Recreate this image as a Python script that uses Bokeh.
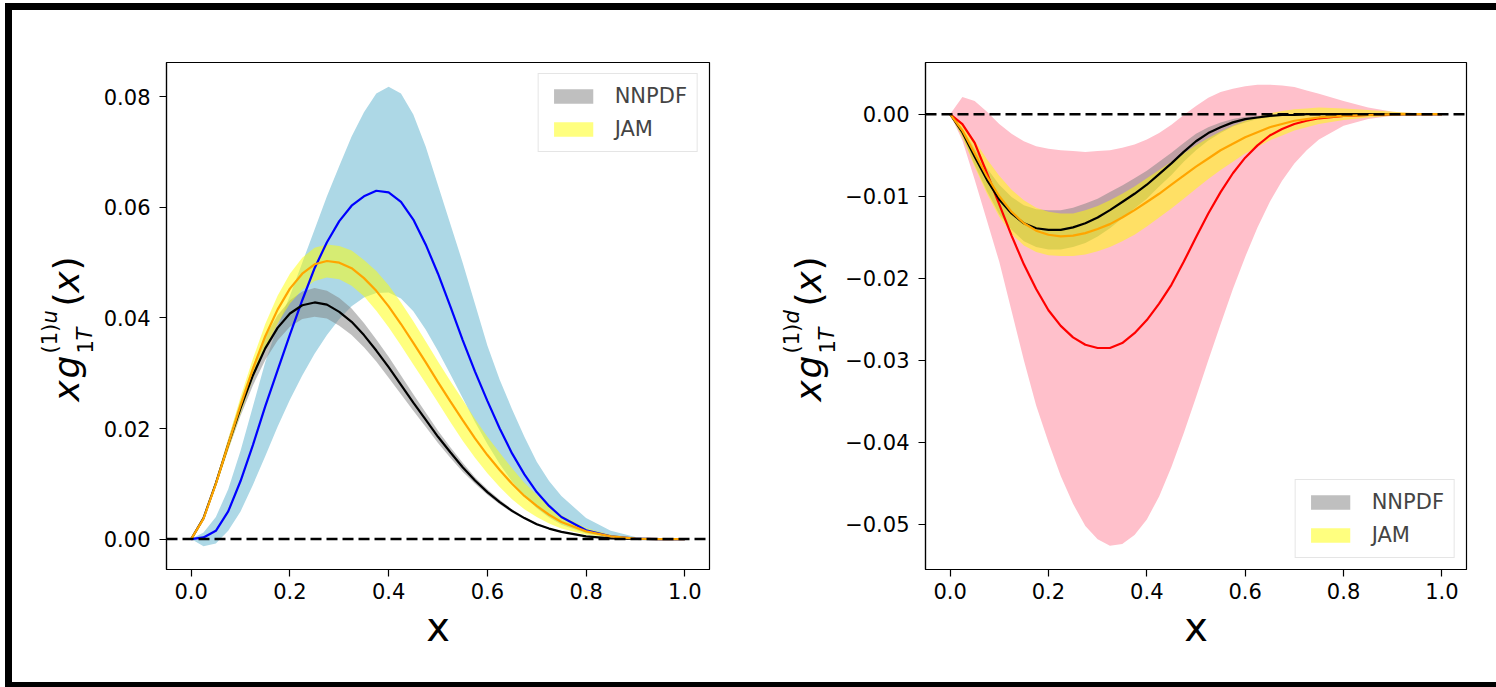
import math
from bokeh.plotting import figure
from bokeh.models import ColumnDataSource, Range1d, FixedTicker, Span, Legend, LegendItem
from bokeh.layouts import row
from bokeh.embed import file_html
from bokeh.resources import INLINE
from bokeh.core.properties import value, field

# ---------------- data ----------------
x_grid = [0.0, 0.025, 0.05, 0.075, 0.1, 0.125, 0.15, 0.175, 0.2, 0.225, 0.25, 0.275, 0.3, 0.325,
          0.35, 0.375, 0.4, 0.425, 0.45, 0.475, 0.5, 0.525, 0.55, 0.575, 0.6, 0.625, 0.65, 0.675,
          0.7, 0.725, 0.75, 0.8, 0.85, 0.9, 0.95, 1.0]

# u quark panel
u_model = [0, 0.0003, 0.0015, 0.005, 0.0105, 0.017, 0.024, 0.0305, 0.037, 0.0432, 0.049, 0.0537,
           0.0575, 0.0603, 0.062, 0.063, 0.0627, 0.061, 0.0578, 0.0533, 0.048, 0.0421, 0.036, 0.0303,
           0.025, 0.02, 0.0155, 0.0117, 0.0085, 0.006, 0.004, 0.0016, 0.0005, 0.0001, 0, 0]
u_model_lo = [0, -0.0013, -0.0008, 0.0015, 0.005, 0.0098, 0.015, 0.0203, 0.0252, 0.0296, 0.0335,
              0.0369, 0.0398, 0.0421, 0.0437, 0.0445, 0.0446, 0.0435, 0.0412, 0.0379, 0.034, 0.0298,
              0.0255, 0.0212, 0.0172, 0.0136, 0.0104, 0.0078, 0.0056, 0.0039, 0.0026, 0.001, 0.0003,
              0.0001, 0, 0]
u_model_hi = [0, 0.0012, 0.004, 0.009, 0.016, 0.024, 0.032, 0.0385, 0.044, 0.05, 0.056, 0.062, 0.0675,
              0.0728, 0.0772, 0.0806, 0.0818, 0.0806, 0.0768, 0.071, 0.064, 0.057, 0.05, 0.0425, 0.035,
              0.0288, 0.0235, 0.0185, 0.014, 0.0105, 0.0078, 0.0038, 0.0015, 0.0004, 0.0001, 0]
u_nnpdf = [0, 0.0038, 0.0101, 0.0171, 0.0237, 0.0296, 0.0345, 0.0382, 0.0408, 0.0423, 0.0428, 0.0424,
           0.0411, 0.0393, 0.0369, 0.0341, 0.0311, 0.0279, 0.0247, 0.0216, 0.0185, 0.0157, 0.013,
           0.0106, 0.0085, 0.0067, 0.0051, 0.0038, 0.0027, 0.0019, 0.0013, 0.0005, 0.00013, 0.00002, 0, 0]
u_nnpdf_lo = [0, 0.0036, 0.0095, 0.0161, 0.0223, 0.0278, 0.0324, 0.0359, 0.0384, 0.0398, 0.0402,
              0.0399, 0.0386, 0.0369, 0.0347, 0.0321, 0.0292, 0.0262, 0.0232, 0.0203, 0.0174, 0.0147,
              0.0122, 0.01, 0.008, 0.0063, 0.0048, 0.0036, 0.0025, 0.0018, 0.0012, 0.0005, 0.0001, 0, 0, 0]
u_nnpdf_hi = [0, 0.004, 0.0107, 0.0181, 0.0251, 0.0314, 0.0366, 0.0405, 0.0432, 0.0448, 0.0454,
              0.0449, 0.0436, 0.0417, 0.0391, 0.0361, 0.033, 0.0296, 0.0262, 0.0229, 0.0196, 0.0166,
              0.0138, 0.0112, 0.009, 0.0071, 0.0054, 0.004, 0.0029, 0.002, 0.0014, 0.0005, 0.00015,
              0.00002, 0, 0]
u_jam = [0, 0.0037, 0.01, 0.0171, 0.0242, 0.0308, 0.0367, 0.0415, 0.0453, 0.048, 0.0497, 0.0503,
         0.05, 0.049, 0.0472, 0.0449, 0.0421, 0.0389, 0.0355, 0.032, 0.0284, 0.0249, 0.0215, 0.0182,
         0.0152, 0.0125, 0.01, 0.0078, 0.006, 0.0044, 0.0031, 0.0014, 0.0005, 0.0001, 0, 0]
u_jam_lo = [0, 0.0035, 0.0094, 0.0161, 0.0227, 0.029, 0.0345, 0.039, 0.0426, 0.0451, 0.0467, 0.0473,
            0.047, 0.0458, 0.0439, 0.0413, 0.0383, 0.035, 0.0316, 0.0282, 0.0247, 0.0212, 0.0178,
            0.0147, 0.0119, 0.0094, 0.0072, 0.0054, 0.004, 0.0028, 0.0019, 0.0008, 0.0003, 0.0001, 0, 0]
u_jam_hi = [0, 0.0039, 0.0106, 0.0181, 0.0257, 0.0326, 0.0389, 0.044, 0.048, 0.0509, 0.0527, 0.0533,
            0.053, 0.0522, 0.0505, 0.0485, 0.0459, 0.0428, 0.0394, 0.0358, 0.0321, 0.0286, 0.0252,
            0.0217, 0.0185, 0.0156, 0.0128, 0.0102, 0.008, 0.006, 0.0043, 0.002, 0.0008, 0.0002,
            0.0001, 0]

# d quark panel
d_model = [0, -0.0012, -0.0035, -0.0072, -0.011, -0.0148, -0.0183, -0.0213, -0.0239, -0.0258,
           -0.0272, -0.0281, -0.0285, -0.0285, -0.0279, -0.0267, -0.0251, -0.0231, -0.0208, -0.018,
           -0.015, -0.0121, -0.0095, -0.0072, -0.0053, -0.0038, -0.0026, -0.0018, -0.0012, -0.0008,
           -0.0005, -0.0002, -0.0001, 0, 0, 0]
d_model_lo = [0, -0.0032, -0.008, -0.013, -0.018, -0.024, -0.03, -0.0355, -0.04, -0.0441, -0.0475,
              -0.0502, -0.0518, -0.0526, -0.0524, -0.0513, -0.0494, -0.0466, -0.043, -0.0389, -0.0345,
              -0.03, -0.0256, -0.0213, -0.0174, -0.0138, -0.0107, -0.0081, -0.006, -0.0044, -0.0031,
              -0.0014, -0.0006, -0.0002, -0.0001, 0]
d_model_hi = [0, 0.0021, 0.0016, 0.0003, -0.0012, -0.0024, -0.0033, -0.0039, -0.0042, -0.0044,
              -0.0045, -0.0046, -0.0045, -0.0044, -0.0041, -0.0037, -0.0031, -0.0023, -0.0013, -0.0001,
              0.001, 0.002, 0.0027, 0.0031, 0.0034, 0.0036, 0.0036, 0.0035, 0.0033, 0.0029, 0.0025,
              0.0016, 0.0008, 0.0003, 0.0001, 0]
d_nnpdf = [0, -0.0022, -0.0052, -0.008, -0.0104, -0.0121, -0.0133, -0.0139, -0.0141, -0.0141, -0.0138,
           -0.0133, -0.0126, -0.0117, -0.0107, -0.0097, -0.0086, -0.0073, -0.006, -0.0046, -0.0033,
           -0.0023, -0.0016, -0.001, -0.0006, -0.0004, -0.0002, -0.0001, -0.0001, 0, 0, 0, 0, 0, 0, 0]
d_nnpdf_lo = [0, -0.0027, -0.0062, -0.0094, -0.0122, -0.0141, -0.0155, -0.0162, -0.0165, -0.0165,
              -0.0162, -0.0157, -0.0149, -0.0139, -0.0127, -0.0115, -0.0103, -0.0088, -0.0074, -0.0058,
              -0.0044, -0.0032, -0.0023, -0.0015, -0.001, -0.0006, -0.0004, -0.0002, -0.0001, 0, 0, 0,
              0, 0, 0, 0]
d_nnpdf_hi = [0, -0.0017, -0.0042, -0.0066, -0.0086, -0.0101, -0.0111, -0.0116, -0.0117, -0.0117,
              -0.0114, -0.0109, -0.0103, -0.0095, -0.0087, -0.0078, -0.0069, -0.0058, -0.0047, -0.0035,
              -0.0024, -0.0016, -0.001, -0.0006, -0.0003, -0.0002, -0.0001, 0, 0, 0, 0, 0, 0, 0, 0, 0]
d_jam = [0, -0.002, -0.0048, -0.0076, -0.01, -0.0119, -0.0133, -0.0142, -0.0147, -0.0149, -0.0148,
         -0.0145, -0.014, -0.0134, -0.0126, -0.0117, -0.0107, -0.0097, -0.0086, -0.0075, -0.0064,
         -0.0054, -0.0044, -0.0036, -0.0028, -0.0022, -0.0016, -0.0012, -0.0008, -0.0006, -0.0004,
         -0.0002, -0.0001, 0, 0, 0]
d_jam_lo = [0, -0.0028, -0.0064, -0.0097, -0.0125, -0.0146, -0.016, -0.0168, -0.0172, -0.0173,
            -0.0173, -0.0171, -0.0167, -0.0162, -0.0155, -0.0147, -0.0137, -0.0126, -0.0115, -0.0103,
            -0.0091, -0.0079, -0.0068, -0.0058, -0.0048, -0.004, -0.0032, -0.0026, -0.002, -0.0016,
            -0.0012, -0.0007, -0.0004, -0.0002, -0.0001, 0]
d_jam_hi = [0, -0.0012, -0.0032, -0.0055, -0.0075, -0.0092, -0.0105, -0.0114, -0.0119, -0.0121,
            -0.0121, -0.0117, -0.0112, -0.0105, -0.0097, -0.0088, -0.0078, -0.0068, -0.0058, -0.0048,
            -0.0038, -0.0029, -0.0021, -0.0014, -0.0008, -0.0003, 0.0001, 0.0004, 0.0006, 0.0007,
            0.0008, 0.0007, 0.0005, 0.0003, 0.0001, 0]

x_ticks = [0.0, 0.2, 0.4, 0.6, 0.8, 1.0]
x_tick_labels = ["0.0", "0.2", "0.4", "0.6", "0.8", "1.0"]
u_ticks = [0.0, 0.02, 0.04, 0.06, 0.08]
u_tick_labels = ["0.00", "0.02", "0.04", "0.06", "0.08"]
d_ticks = [0.0, -0.01, -0.02, -0.03, -0.04, -0.05]
d_tick_labels = ["0.00", "\u22120.01", "\u22120.02", "\u22120.03", "\u22120.04", "\u22120.05"]
legend_labels = ["NNPDF", "JAM"]
x_label = "x"

# ---------------- geometry / style ----------------
FONT = "DejaVu Sans"
ORIGIN_X, ORIGIN_Y = 12, 10          # page position of content (inside black border)
FIG_H = 672
TOP, BOTTOM = 52, 113
FRAME_H = FIG_H - TOP - BOTTOM
FRAME_BOTTOM_PAGE = ORIGIN_Y + TOP + FRAME_H
XR = (-0.05, 1.05)


def make_panel(width, left, right, yr, yticks, ylabels, xvals, model, mlo, mhi, mcolor, bandcolor,
               nn, nnlo, nnhi, jam, jlo, jhi, legend_loc):
    p = figure(width=width, height=FIG_H, x_range=Range1d(*XR), y_range=Range1d(*yr),
               output_backend="svg", toolbar_location=None,
               min_border_left=left, min_border_right=right,
               min_border_top=TOP, min_border_bottom=BOTTOM)
    p.grid.visible = False
    p.outline_line_color = "black"
    p.outline_line_width = 1.2
    p.background_fill_color = "white"
    p.border_fill_color = "white"

    src = ColumnDataSource(dict(x=xvals, m=model, mlo=mlo, mhi=mhi, n=nn, nlo=nnlo, nhi=nnhi,
                                j=jam, jlo=jlo, jhi=jhi))
    p.varea(x="x", y1="mlo", y2="mhi", source=src, fill_color=bandcolor, fill_alpha=1.0)
    r_n = p.varea(x="x", y1="nlo", y2="nhi", source=src, fill_color="grey", fill_alpha=0.5)
    r_j = p.varea(x="x", y1="jlo", y2="jhi", source=src, fill_color="yellow", fill_alpha=0.5)
    p.line(x="x", y="m", source=src, line_color=mcolor, line_width=2.2)
    p.line(x="x", y="n", source=src, line_color="black", line_width=2.2)
    p.line(x="x", y="j", source=src, line_color="orange", line_width=2.2)

    p.add_layout(Span(location=0, dimension="width", line_color="black", line_width=2.5,
                      line_dash="11 5"))

    xa, ya = p.xaxis[0], p.yaxis[0]
    xa.ticker = FixedTicker(ticks=x_ticks)
    xa.major_label_overrides = {t: s for t, s in zip(x_ticks, x_tick_labels)}
    ya.ticker = FixedTicker(ticks=yticks)
    ya.major_label_overrides = {t: s for t, s in zip(yticks, ylabels)}
    for ax in (xa, ya):
        ax.major_label_text_font = FONT
        ax.major_label_text_font_size = "21px"
        ax.major_label_text_color = "black"
        ax.major_tick_in = 0
        ax.major_tick_out = 7
        ax.minor_tick_in = 0
        ax.minor_tick_out = 0
        ax.axis_line_color = "black"
        ax.axis_line_width = 1.2
        ax.major_tick_line_color = "black"
        ax.major_tick_line_width = 1.2
    xa.major_label_standoff = 6
    ya.major_label_standoff = 9
    xa.axis_label = x_label
    xa.axis_label_text_font = FONT
    xa.axis_label_text_font_size = "40px"
    xa.axis_label_text_font_style = "normal"
    xa.axis_label_text_color = "black"
    xa.axis_label_standoff = 2

    legend = Legend(items=[LegendItem(label=legend_labels[0], renderers=[r_n]),
                           LegendItem(label=legend_labels[1], renderers=[r_j])],
                    location=legend_loc)
    legend.margin = 11
    legend.padding = 10
    legend.spacing = 9
    legend.glyph_width = 49
    legend.glyph_height = 18
    legend.label_standoff = 17
    legend.label_text_font = FONT
    legend.label_text_font_size = "21px"
    legend.border_line_color = "#cccccc"
    legend.border_line_width = 1
    legend.background_fill_alpha = 0.8
    p.add_layout(legend)
    return p


def label_pieces(flav, mid):
    # text, size, style, centre-line x (page px), start y (page px); text reads upward
    big, small = 36, 21
    return [
        ("x", big, "italic", mid, 401),
        ("g", big, "italic", mid, 378),
        ("(1)", small, "normal", mid - 17, 353),
        (flav, small, "italic", mid - 17, 323),
        ("1", small, "normal", mid + 18, 353),
        ("T", small, "italic", mid + 18, 340),
        ("(", big, "normal", mid, 306),
        ("x", big, "italic", mid, 292),
        (")", big, "normal", mid, 270),
    ]


def label_fig(width, page_left, pieces):
    lf = figure(width=width, height=FIG_H, x_range=Range1d(0, width), y_range=Range1d(0, FRAME_H),
                output_backend="svg", toolbar_location=None, x_axis_location=None,
                y_axis_location=None, min_border_left=0, min_border_right=0,
                min_border_top=TOP, min_border_bottom=BOTTOM)
    lf.grid.visible = False
    lf.outline_line_color = None
    lf.background_fill_color = "white"
    lf.border_fill_color = "white"
    src = ColumnDataSource(dict(
        x=[cx - page_left for _, _, _, cx, _ in pieces],
        y=[FRAME_BOTTOM_PAGE - sy for _, _, _, _, sy in pieces],
        text=[t for t, _, _, _, _ in pieces],
        size=[f"{s}px" for _, s, _, _, _ in pieces],
        style=[st for _, _, st, _, _ in pieces],
    ))
    lf.text(x="x", y="y", text="text", source=src, angle=math.pi / 2,
            text_font=value(FONT), text_font_size=field("size"), text_font_style=field("style"),
            text_align="left", text_baseline="middle", text_color="black")
    return lf


# ---------------- panels ----------------
LW1 = 84                      # label strip left panel: page x 12..96
W1, L1, R1 = 654, 70, 41      # panel 1: page x 96..750, frame 166..709
LW2 = 88                      # label strip right panel: page x 750..838
W2, L2, R2 = 658, 87, 30      # panel 2: page x 838..1496, frame 925..1466
yr_u = (-0.0055, 0.0862)
yr_d = (-0.0555, 0.0063)

p1 = make_panel(W1, L1, R1, yr_u, u_ticks, u_tick_labels, x_grid, u_model, u_model_lo, u_model_hi,
                "blue", "#add8e6", u_nnpdf, u_nnpdf_lo, u_nnpdf_hi, u_jam, u_jam_lo, u_jam_hi,
                "top_right")
p2 = make_panel(W2, L2, R2, yr_d, d_ticks, d_tick_labels, x_grid, d_model, d_model_lo, d_model_hi,
                "red", "#ffc0cb", d_nnpdf, d_nnpdf_lo, d_nnpdf_hi, d_jam, d_jam_lo, d_jam_hi,
                "bottom_right")

lab1 = label_fig(LW1, ORIGIN_X, label_pieces("u", 66))
lab2 = label_fig(LW2, ORIGIN_X + LW1 + W1, label_pieces("d", 808))

layout = row(lab1, p1, lab2, p2, styles={
    "margin-left": "5px", "margin-top": "3px",
    "border-left": "7px solid black", "border-top": "7px solid black",
    "border-bottom": "5px solid black", "background": "white"})

open("out.html", "w").write(file_html(layout, INLINE))
